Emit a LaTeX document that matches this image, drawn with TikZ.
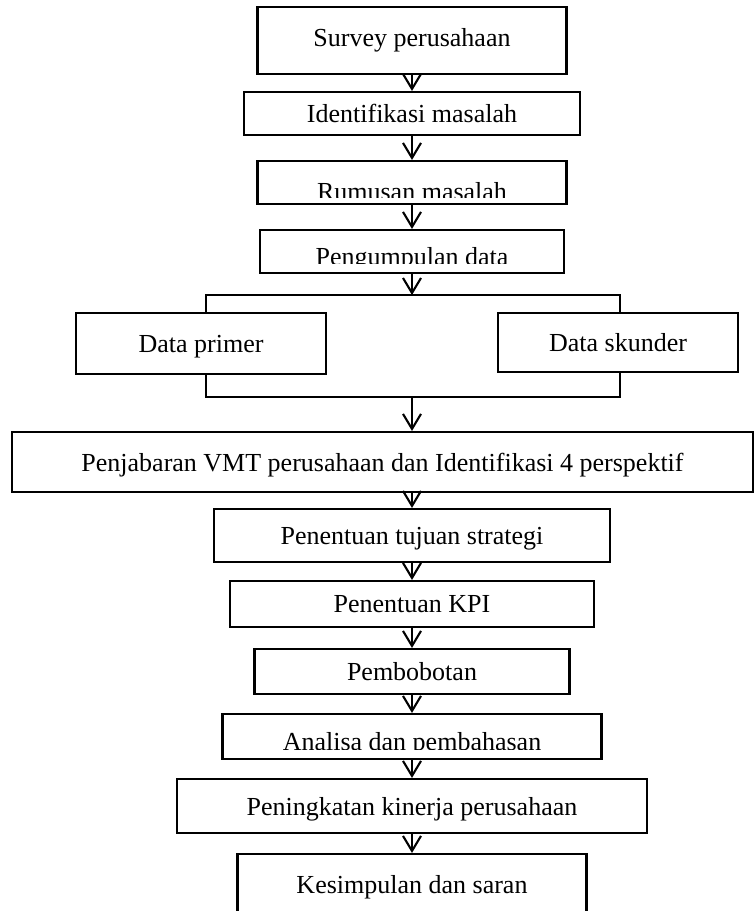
\documentclass[tikz,border=0pt]{standalone}
\usepackage{fontspec}
\setmainfont{Liberation Serif}
\usetikzlibrary{arrows.meta}

\tikzset{
    box/.style={rectangle, draw, inner sep=0pt, text depth=0pt},
    arr/.style={-{Straight Barb[length=7.5pt, width=9pt]}},
    cutbox/.style n args={3}{path picture={
        \clip ([yshift=#3]path picture bounding box.south west) rectangle (path picture bounding box.north east);
        \node[anchor=base, inner sep=0pt] at ([yshift=#2]path picture bounding box.south) {#1};
    }}
}

\begin{document}
\begin{tikzpicture}[
    x=0.5pt, y=-0.5pt,
    line width=1.05pt,
    font=\fontsize{13}{16}\selectfont
]
    \useasboundingbox (0,0) rectangle (755,911);

    \node[box, minimum width=154.5pt, minimum height=33.5pt, text depth=2.9pt] (survey) at (412,40.5) {Survey perusahaan};
    \node[box, minimum width=168pt, minimum height=21.5pt] (ident) at (412,113.5) {Identifikasi masalah};
    \node[box, minimum width=154.5pt, minimum height=21.5pt, cutbox={Rumusan masalah}{2pt}{3.5pt}] (rumusan) at (412,182.5) {};
    \node[box, minimum width=152pt, minimum height=21.5pt, cutbox={Pengumpulan data}{4pt}{5pt}] (kumpul) at (412,251.5) {};

    \node[box, minimum width=125pt, minimum height=30.5pt] (primer) at (201,343.5) {Data primer};
    \node[box, minimum width=120pt, minimum height=29.5pt] (skunder) at (618,342.5) {Data skunder};

    \node[box, minimum width=370.5pt, minimum height=30pt] (vmt) at (382.5,462) {Penjabaran VMT perusahaan dan Identifikasi 4 perspektif};
    \node[box, minimum width=198pt, minimum height=26.5pt] (tujuan) at (412,535.5) {Penentuan tujuan strategi};
    \node[box, minimum width=182pt, minimum height=23pt] (kpi) at (412,604) {Penentuan KPI};
    \node[box, minimum width=157.5pt, minimum height=22.5pt] (bobot) at (412,671.5) {Pembobotan};
    \node[box, minimum width=189.5pt, minimum height=22.5pt, cutbox={Analisa dan pembahasan}{4.25pt}{5pt}] (analisa) at (412,736.5) {};
    \node[box, minimum width=235pt, minimum height=27pt] (kinerja) at (412,806) {Peningkatan kinerja perusahaan};
    \node[box, minimum width=174.5pt, minimum height=30pt] (simpul) at (412,884) {Kesimpulan dan saran};

    % split into the two data sources and join again
    \coordinate (split) at (412,295);
    \coordinate (splitL) at (206,295);
    \coordinate (splitR) at (620,295);
    \coordinate (merge) at (412,397);
    \coordinate (mergeL) at (206,397);
    \coordinate (mergeR) at (620,397);

    \draw[arr] (survey) -- (ident);
    \draw[arr] (ident) -- (rumusan);
    \draw[arr] (rumusan) -- (kumpul);
    \draw[arr] (kumpul) -- (split);
    \draw (primer.north -| splitL) -- (splitL) -- (splitR) -- (skunder.north -| splitR);
    \draw (primer.south -| mergeL) -- (mergeL) -- (mergeR) -- (skunder.south -| mergeR);
    \draw[arr] (merge) -- (vmt.north -| merge);
    \draw[arr] (vmt.south -| tujuan) -- (tujuan);
    \draw[arr] (tujuan) -- (kpi);
    \draw[arr] (kpi) -- (bobot);
    \draw[arr] (bobot) -- (analisa);
    \draw[arr] (analisa) -- (kinerja);
    \draw[arr] (kinerja) -- (simpul);
\end{tikzpicture}
\end{document}
